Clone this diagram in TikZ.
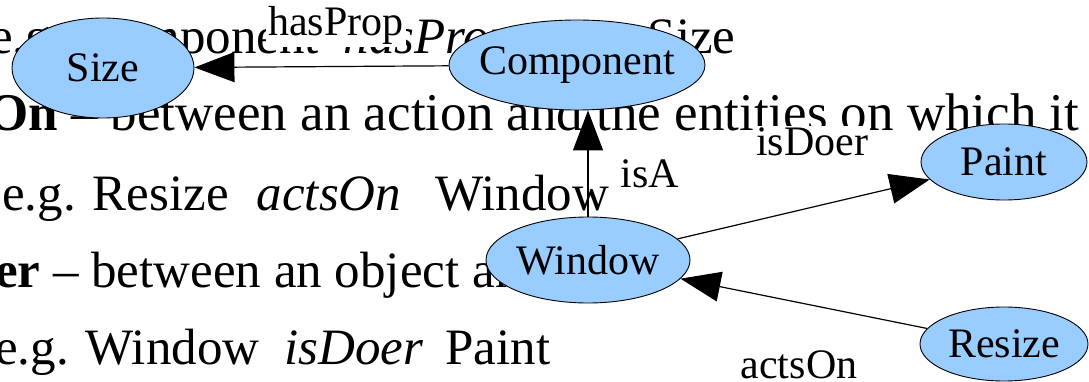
\documentclass[tikz,border=0pt]{standalone}
\usepackage{fontspec}
\setmainfont{Liberation Serif}
\usepackage{xcolor}
\usetikzlibrary{arrows.meta,shapes.geometric}
\definecolor{conceptblue}{HTML}{99CCFF}

\begin{document}
\begin{tikzpicture}[x=1pt,y=-1pt,
            concept/.style={ellipse,draw,line width=0.9pt,fill=conceptblue,inner xsep=-20pt,inner ysep=0pt,font=\fontsize{42}{42}\selectfont},
            rel/.style={-{Triangle[length=40pt,width=30pt]},line width=1.2pt},
            rellabel/.style={fill=white,inner sep=2pt,anchor=base,font=\fontsize{42}{42}\selectfont},
            slide/.style={anchor=base west,inner sep=0pt,font=\fontsize{51}{60}\selectfont}]
            \useasboundingbox (0,0) rectangle (1089,382);
            \clip (0,0) rectangle (1089,382);

            \node (l1) at (-10,54) [slide] {e.g. Component\hspace{25pt}\textit{hasProp}\hspace{133pt}Size};
            \node (l2) at (-13,131) [slide,font=\fontsize{53}{60}\selectfont] {\textbf{On} \textendash{} between an action and the entities on which it};
            \node (l3) at (2,211) [slide] {e.g. Resize\hspace{28pt}\textit{actsOn}\hspace{34pt}Window};
            \node (l4) at (-5,287) [slide] {\textbf{er} \textendash{} between an object and};
            \node (l5) at (-5,364) [slide] {e.g. Window\hspace{25pt}\textit{isDoer}\hspace{22pt}Paint};

            \node (size) at (103,68) [concept,minimum width=182pt,minimum height=100pt] {Size};
            \node (comp) at (577,65) [concept,minimum width=256pt,minimum height=90pt] {Component};
            \node (win) at (588,260) [concept,minimum width=204pt,minimum height=86pt] {Window};
            \node (paint) at (1004,162) [concept,minimum width=166pt,minimum height=76pt] {Paint};
            \node (resize) at (1004,344) [concept,minimum width=168pt,minimum height=74pt] {Resize};

            \draw[rel] (comp) -- (size);
            \draw[rel] (win.north) -- (win.north |- comp.south);
            \draw[rel] (win) -- (paint);
            \draw[rel] (resize) -- (win);

            \node (hp) at (336,36) [rellabel] {hasProp};
            \node (ia) at (650,188) [rellabel] {isA};
            \node (id) at (812,156) [rellabel] {isDoer};
            \node (ao) at (799,378) [rellabel] {actsOn};

        \end{tikzpicture}
\end{document}
